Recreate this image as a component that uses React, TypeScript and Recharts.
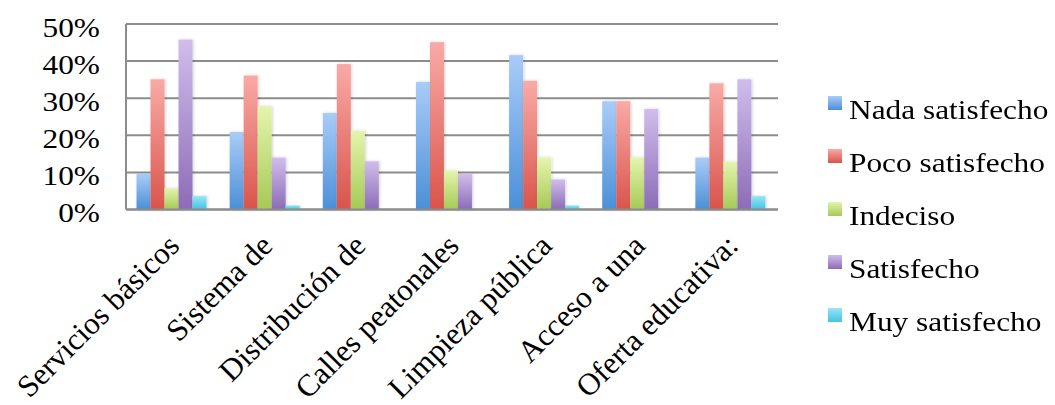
import React from 'react';
import { BarChart, Bar, XAxis, YAxis, CartesianGrid } from 'recharts';

// Survey categories (x axis)
const categories = [
  'Servicios básicos',
  'Sistema de',
  'Distribución de',
  'Calles peatonales',
  'Limpieza pública',
  'Acceso a una',
  'Oferta educativa:',
];

// Percentage of answers per satisfaction level
const nadaSatisfecho = [9.6, 20.9, 26.0, 34.4, 41.6, 29.2, 14.0];
const pocoSatisfecho = [35.1, 36.1, 39.2, 45.1, 34.7, 29.2, 34.0];
const indeciso = [5.7, 27.8, 21.2, 10.5, 14.0, 14.0, 12.9];
const satisfecho = [45.8, 14.0, 13.0, 9.6, 8.1, 27.1, 35.1];
const muySatisfecho = [3.6, 1.1, 0, 0, 1.1, 0, 3.6];

const yTicks = [0, 10, 20, 30, 40, 50];

const series = [
  { key: 'nada', name: 'Nada satisfecho', values: nadaSatisfecho, top: '#a9ccf8', bottom: '#4b8fd7' },
  { key: 'poco', name: 'Poco satisfecho', values: pocoSatisfecho, top: '#f9aaa6', bottom: '#d9544c' },
  { key: 'indeciso', name: 'Indeciso', values: indeciso, top: '#e4f5ad', bottom: '#a6c957' },
  { key: 'satisfecho', name: 'Satisfecho', values: satisfecho, top: '#d0bdec', bottom: '#8c6cb6' },
  { key: 'muy', name: 'Muy satisfecho', values: muySatisfecho, top: '#96e5f5', bottom: '#45c2e2' },
];

const data = categories.map((name, i) => {
  const row: Record<string, string | number> = { name };
  series.forEach((s) => {
    row[s.key] = s.values[i];
  });
  return row;
});

const FONT = '"Liberation Serif", "Times New Roman", serif';
const SX = 1.12;
const GRID = '#8c8c8c';

const YTick = (props: any) => {
  const { x, y, payload } = props;
  return (
    <text
      transform={`translate(${x},${y + 12.5}) scale(${SX},1)`}
      textAnchor="end"
      fontFamily={FONT}
      fontSize={28}
      fill="#000"
    >
      {`${payload.value}%`}
    </text>
  );
};

const XTick = (props: any) => {
  const { x, y, payload } = props;
  return (
    <text
      transform={`translate(${x + 8.5},${y + 38}) rotate(-45)`}
      textAnchor="end"
      fontFamily={FONT}
      fontSize={31}
      fill="#000"
    >
      {payload.value}
    </text>
  );
};

// Bar with a soft shadow
const ShadowBar = (props: any) => {
  const { x, y, width, height, fill } = props;
  if (!height || height <= 0) return null;
  return <rect x={x} y={y} width={width} height={height} fill={fill} filter="url(#barShadow)" />;
};

// Legend drawn as a small SVG next to the plot
const ChartLegend = () => (
  <svg
    width={227}
    height={280}
    style={{ position: 'absolute', left: 828, top: 90, overflow: 'visible' }}
  >
    <defs>
      {series.map((s) => (
        <linearGradient key={s.key} id={`lg-${s.key}`} x1="0" y1="0" x2="0" y2="1">
          <stop offset="0%" stopColor={s.top} />
          <stop offset="100%" stopColor={s.bottom} />
        </linearGradient>
      ))}
    </defs>
    {series.map((s, i) => (
      <g key={s.key} transform={`translate(0,${6 + i * 53})`}>
        <rect x={0} y={0} width={14} height={14} fill={`url(#lg-${s.key})`} />
        <text
          transform={`translate(21,23) scale(${SX},1)`}
          fontFamily={FONT}
          fontSize={28}
          fill="#000"
        >
          {s.name}
        </text>
      </g>
    ))}
  </svg>
);

export default function App() {
  return (
    <div style={{ position: 'fixed', left: 0, top: 0, width: 1055, height: 405, background: '#fff' }}>
      <BarChart
        width={1055}
        height={405}
        data={data}
        margin={{ top: 24, right: 277, bottom: 0, left: 0 }}
        barCategoryGap="11.3%"
        barGap={0}
      >
        <defs>
          {series.map((s) => (
            <linearGradient key={s.key} id={`grad-${s.key}`} x1="0" y1="0" x2="0" y2="1">
              <stop offset="0%" stopColor={s.top} />
              <stop offset="100%" stopColor={s.bottom} />
            </linearGradient>
          ))}
          <filter id="barShadow" x="-30%" y="-10%" width="160%" height="120%">
            <feDropShadow dx="1" dy="0" stdDeviation="1.5" floodColor="#000" floodOpacity="0.18" />
          </filter>
        </defs>
        <CartesianGrid vertical={false} stroke={GRID} strokeWidth={2} />
        <XAxis
          dataKey="name"
          height={195.5}
          axisLine={{ stroke: GRID, strokeWidth: 2 }}
          tickLine={false}
          tickSize={0}
          tickMargin={0}
          interval={0}
          tick={<XTick />}
        />
        <YAxis
          width={126}
          domain={[0, 50]}
          ticks={yTicks}
          axisLine={{ stroke: GRID, strokeWidth: 2 }}
          tickLine={false}
          tickSize={0}
          tickMargin={26}
          tick={<YTick />}
        />
        {series.map((s) => (
          <Bar
            key={s.key}
            dataKey={s.key}
            name={s.name}
            fill={`url(#grad-${s.key})`}
            shape={<ShadowBar />}
            isAnimationActive={false}
          />
        ))}
      </BarChart>
      <ChartLegend />
    </div>
  );
}
